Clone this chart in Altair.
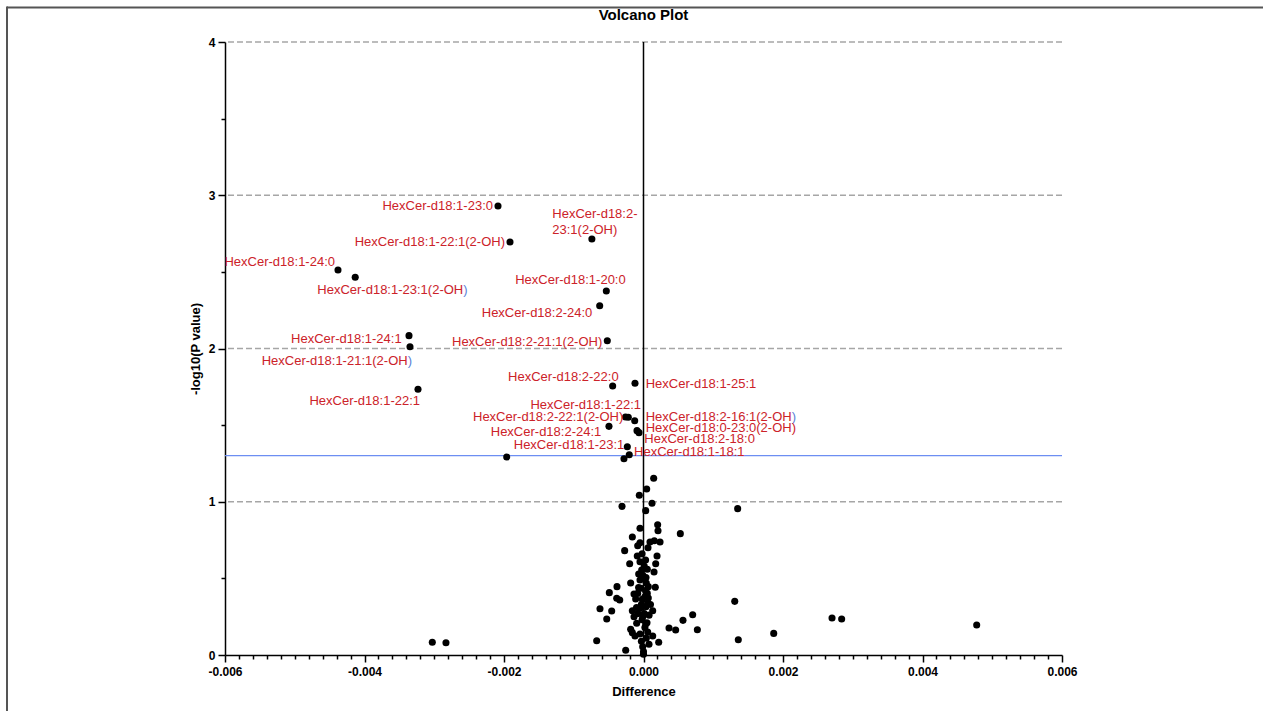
import altair as alt
import pandas as pd

# ---------------- data ----------------
label_names = [
    "HexCer-d18:1-23:0", "HexCer-d18:2-\n23:1(2-OH)", "HexCer-d18:1-22:1(2-OH)",
    "HexCer-d18:1-24:0", "HexCer-d18:1-23:1(2-OH)", "HexCer-d18:1-20:0",
    "HexCer-d18:2-24:0", "HexCer-d18:1-24:1", "HexCer-d18:1-21:1(2-OH)",
    "HexCer-d18:2-21:1(2-OH)", "HexCer-d18:1-22:1", "HexCer-d18:2-22:0",
    "HexCer-d18:1-25:1", "HexCer-d18:1-22:1", "HexCer-d18:2-22:1(2-OH)",
    "HexCer-d18:2-16:1(2-OH)", "HexCer-d18:0-23:0(2-OH)", "HexCer-d18:2-24:1",
    "HexCer-d18:2-18:0", "HexCer-d18:1-23:1", "HexCer-d18:1-18:1",
]
label_diff = [
    -0.002086, -0.00074, -0.001914, -0.00438, -0.004133, -0.000533,
    -0.000628, -0.003362, -0.003348, -0.000519, -0.003233, -0.000442,
    -0.000122, -0.000218, -0.000258, -0.000126, -0.0000932, -0.000495,
    -0.0000645, -0.000232, -0.000204,
]
label_logp = [
    2.930, 2.714, 2.695, 2.512, 2.465, 2.375,
    2.279, 2.084, 2.012, 2.051, 1.734, 1.755,
    1.773, 1.551, 1.553, 1.529, 1.464, 1.492,
    1.451, 1.359, 1.307,
]
# where each label sits (data units) and how it is anchored
text_diff = [
    -0.002158, -0.001308, -0.001986, -0.004423, -0.004677, -0.000255,
    -0.000734, -0.003467, -0.005474, -0.000591, -0.003204, -0.000356,
    0.0000315, -0.0000358, -0.00029, 0.0000315, 0.0000315, -0.000605,
    0.0000115, -0.000275, -0.000136,
]
text_logp = [
    2.932, 2.878, 2.697, 2.566, 2.382, 2.447,
    2.230, 2.060, 1.918, 2.044, 1.657, 1.812,
    1.768, 1.631, 1.551, 1.555, 1.483, 1.457,
    1.408, 1.368, 1.327,
]
text_align = [
    "right", "left", "right", "right", "left", "right",
    "right", "right", "left", "right", "right", "right",
    "left", "right", "right", "left", "left", "right",
    "left", "right", "left",
]
blue_paren = [
    False, False, False, False, True, False,
    False, False, True, False, False, False,
    False, False, False, True, False, False,
    False, False, False,
]

other_diff = [
    -0.00028, -0.001961, 0.000146, 0.0000459, -0.0000602, 0.000122, -0.000308,
    0.0000315, 0.00135, 0.000203, 0.000208, -0.00005, 0.000528, -0.00016,
    0.000237, 0.000155, 0.000093, -0.00005, -0.000083, 0.0000645, -0.00027,
    -0.000089, 0.000194, -0.00005, -0.000198, 0.000175, 0.0000545, -0.000026,
    0.000151, -0.000069, 0.0000358, -0.00005, -0.000184, -0.00038, 0.000169,
    0.0000688, -0.000036, -0.00049, -0.000136, -0.000083, 0.0000545, -0.000384,
    -0.000341, -0.000112, -0.0000172, 0.0000688, 0.001308, -0.000624, -0.000456,
    -0.00016, -0.00005, 0.0000358, 0.000132, -0.000136, -0.0000115, -0.000527,
    0.000705, 0.000566, -0.0000975, 0.0000315, -0.000184, 0.000366, 0.000461,
    0.000772, -0.00016, 0.0000602, -0.000122, 0.000132, -0.00005, -0.000671,
    0.000218, 0.0000789, 0.001359, -0.000255, -0.0000115, 0.0, 0.0,
    0.001867, 0.002703, 0.002841, 0.004777, -0.003028, -0.002832,
    0.00002, -0.00002, 0.00001, -0.00003, 0.00002, 0.00004, -0.00001,
    0.00001, 0.00003, -0.00002, 0.00004, -0.00003, 0.00006, 0.00003,
    -0.00007, -0.0001, 0.0001, 0.00008, -0.00008, 0.00005,
]
other_logp = [
    1.281, 1.292, 1.153, 1.083, 1.042, 0.990, 0.970,
    0.942, 0.955, 0.850, 0.811, 0.827, 0.792, 0.770,
    0.737, 0.746, 0.737, 0.733, 0.713, 0.700, 0.681,
    0.646, 0.646, 0.609, 0.596, 0.596, 0.559, 0.555,
    0.542, 0.529, 0.505, 0.489, 0.470, 0.446, 0.442,
    0.446, 0.435, 0.407, 0.398, 0.402, 0.402, 0.370,
    0.359, 0.365, 0.363, 0.372, 0.350, 0.302, 0.287,
    0.289, 0.305, 0.315, 0.289, 0.250, 0.250, 0.235,
    0.263, 0.226, 0.207, 0.202, 0.168, 0.176, 0.163,
    0.165, 0.146, 0.150, 0.124, 0.124, 0.137, 0.093,
    0.083, 0.070, 0.100, 0.031, 0.054, 0.022, 0.005,
    0.141, 0.241, 0.235, 0.196, 0.083, 0.080,
    0.18, 0.23, 0.27, 0.33, 0.38, 0.47, 0.52,
    0.58, 0.62, 0.66, 0.11, 0.09, 0.34, 0.42,
    0.44, 0.31, 0.33, 0.26, 0.27, 0.21,
]

grid_logp = [1, 2, 3, 4]
threshold_logp = [1.301]
zero_diff = [0.0]
chart_title = ["Volcano Plot"]

# ---------------- tables ----------------
points = pd.DataFrame({
    "x": label_diff + other_diff,
    "y": label_logp + other_logp,
})
labels = pd.DataFrame({
    "x": text_diff,
    "y": text_logp,
    "align": text_align,
    "blue": blue_paren,
    "full": label_names,
    "red": [n[:-1] if b else n for n, b in zip(label_names, blue_paren)],
})
grid = pd.DataFrame({"y": grid_logp})
thr = pd.DataFrame({"y": threshold_logp})
zero = pd.DataFrame({"x": zero_diff})
title_df = pd.DataFrame({"t": chart_title})

FONT = "Liberation Sans"
RED = "#cc2229"
BLUE = "#5b7fd6"

xticks = [(i * 2 - 60) / 10000 for i in range(61)]
yticks = [i / 2 for i in range(9)]

x_major = "abs(datum.value*500 - round(datum.value*500)) < 1e-6"
y_major = "abs(datum.value - round(datum.value)) < 1e-6"

x_axis = alt.Axis(
    values=xticks,
    labelExpr=f"{x_major} ? replace(format(datum.value, '.3f'), '\u2212', '-') : ''",
    tickSize={"condition": {"test": x_major, "value": 7}, "value": 4},
    title="Difference",
    labelPadding=4,
    titlePadding=8,
    labelFlush=False,
    labelOverlap=False,
    labelFontWeight="bold",
    labelFontSize=12,
    grid=False,
)
y_axis = alt.Axis(
    values=yticks,
    labelExpr=f"{y_major} ? format(datum.value, 'd') : ''",
    tickSize={"condition": {"test": y_major, "value": 7}, "value": 4},
    title="-log10(P value)",
    labelPadding=3,
    titlePadding=6,
    labelFlush=False,
    labelOverlap=False,
    labelFontWeight="bold",
    labelFontSize=12,
    grid=False,
)
x_scale = alt.Scale(domain=[-0.006, 0.006], nice=False, zero=False)
y_scale = alt.Scale(domain=[0, 4], nice=False, zero=False)


def X(field="x"):
    return alt.X(f"{field}:Q", scale=x_scale, axis=x_axis)


def Y(field="y"):
    return alt.Y(f"{field}:Q", scale=y_scale, axis=y_axis)


grid_layer = alt.Chart(grid).mark_rule(
    color="#a6a6a6", strokeWidth=1.5, strokeDash=[6, 3]
).encode(y=Y())

thr_layer = alt.Chart(thr).mark_rule(color="#6d8ef2", strokeWidth=1.2).encode(y=Y())

zero_layer = alt.Chart(zero).mark_rule(color="black", strokeWidth=1.5).encode(x=X())

point_layer = alt.Chart(points).mark_circle(
    size=50, color="black", opacity=1
).encode(x=X(), y=Y())

text_props = dict(baseline="middle", font=FONT, fontSize=13, lineBreak="\n", lineHeight=16)

# blue closing parenthesis: full text in blue, masked by white text without ")"
left_blue = alt.Chart(labels).transform_filter("datum.blue").mark_text(
    align="left", color=BLUE, **text_props
).encode(x=X(), y=Y(), text="full:N")

left_mask = alt.Chart(labels).transform_filter("datum.blue").mark_text(
    align="left", color="white", stroke="white", strokeWidth=1.2, **text_props
).encode(x=X(), y=Y(), text="red:N")

left_red = alt.Chart(labels).transform_filter("datum.align == 'left'").mark_text(
    align="left", color=RED, **text_props
).encode(x=X(), y=Y(), text="red:N")

right_red = alt.Chart(labels).transform_filter("datum.align == 'right'").mark_text(
    align="right", color=RED, **text_props
).encode(x=X(), y=Y(), text="red:N")

title_layer = alt.Chart(title_df).mark_text(
    font=FONT, fontSize=15, fontWeight="bold", color="black",
    align="center", baseline="middle",
).encode(x=alt.value(418.5), y=alt.value(-27), text="t:N")

frame_top = alt.Chart(zero).mark_rule(color="#555555", strokeWidth=2).encode(
    x=alt.value(-218), x2=alt.value(1050), y=alt.value(-34.5)
)
frame_left = alt.Chart(zero).mark_rule(color="#555555", strokeWidth=2).encode(
    x=alt.value(-218), y=alt.value(-35.5), y2=alt.value(680)
)

chart = alt.layer(
    frame_top, frame_left, grid_layer, thr_layer, zero_layer, point_layer,
    left_blue, left_mask, left_red, right_red, title_layer,
).properties(
    width=837,
    height=613,
    autosize=alt.AutoSizeParams(type="none"),
    padding={"left": 225, "top": 42, "right": 201, "bottom": 56},
).configure_view(
    strokeWidth=0
).configure_axis(
    domainColor="black", domainWidth=1.5, tickColor="black", tickWidth=1.5,
    labelFont=FONT, labelFontSize=12, labelFontWeight="bold", labelColor="black",
    titleFont=FONT, titleFontSize=13, titleFontWeight="bold", titleColor="black",
)

chart.save("out.html", embed_options={"renderer": "svg", "actions": False})
